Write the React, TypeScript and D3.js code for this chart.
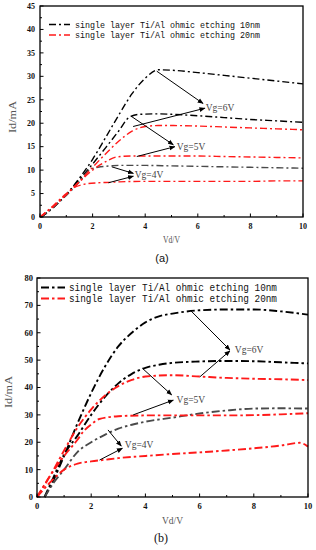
import React from "react";
import * as d3 from "d3";

type P = [number, number];

// ---------- Panel (a) data: Vd (V), Id (mA) ----------
const aBlack6: P[] = [[0.05,0],[0.5,2],[1,4.8],[1.5,8.3],[2,12.3],[2.5,17],[3,21.8],[3.5,26.3],[4,29.6],[4.5,31.4],[5,31.3],[6,30.8],[7,30.2],[8,29.6],[9,29],[10,28.4]];
const aBlack5: P[] = [[0.05,0],[0.5,2],[1,4.8],[1.5,8],[2,11.3],[2.5,14.8],[3,18.4],[3.4,21.3],[3.8,21.9],[4.5,22],[5,21.9],[6,21.6],[7,21.2],[8,20.8],[9,20.5],[10,20.2]];
const aGray4: P[] = [[0.05,0],[0.5,2],[1,4.6],[1.5,7.5],[1.85,9.9],[2.2,10.6],[2.7,10.9],[3,11],[4,11],[5,10.9],[6,10.8],[7,10.7],[8,10.6],[9,10.5],[10,10.4]];
const aRed6: P[] = [[0,0],[0.5,2.2],[1,4.8],[1.5,7.6],[2,10.6],[2.5,13.5],[3,16.2],[3.5,18.3],[4,19.3],[4.5,19.5],[5,19.5],[6,19.4],[7,19.2],[8,19],[9,18.8],[10,18.6]];
const aRed5: P[] = [[0,0],[0.5,2.2],[1,4.8],[1.5,7.5],[2,10],[2.5,11.8],[2.9,12.8],[3.5,13],[4,13],[5,13],[6,13],[7,12.9],[8,12.8],[9,12.7],[10,12.6]];
const aRed4: P[] = [[0,0],[0.5,2.4],[1,5],[1.35,6.4],[1.7,7],[2.2,7.3],[2.7,7.4],[3,7.5],[4,7.6],[5,7.6],[6,7.6],[7,7.6],[8,7.6],[9,7.7],[10,7.7]];

// ---------- Panel (b) data ----------
const bBlack6: P[] = [[0.28,0],[0.6,6],[1,15],[1.5,27],[2,38],[2.5,47.5],[3,55],[3.5,60],[4,63.8],[4.5,66],[5,67],[6,68.2],[7,68.5],[8,68.5],[9,67.8],[10,66.6]];
const bBlack5: P[] = [[0.28,0],[0.6,7],[1,15.5],[1.5,22.5],[2,30],[2.5,36.5],[3,41.5],[3.5,45],[4,47.2],[4.5,48.3],[5,49],[6,49.5],[7,49.7],[8,49.6],[9,49.2],[10,48.8]];
const bGray4: P[] = [[0.28,0],[0.6,5],[1,10],[1.5,16.5],[2,20],[2.5,22.7],[3,25],[3.5,26.4],[4,27.5],[5,29],[6,30.5],[7,31.6],[8,32.3],[9,32.4],[10,32.3]];
const bRed6: P[] = [[0,0],[0.5,8],[1,17],[1.5,25.5],[2,32],[2.5,37],[3,40.5],[3.5,42.8],[4,44],[5,44.5],[6,44],[7,43.5],[8,43.2],[9,43],[10,42.7]];
const bRed5: P[] = [[0,0],[0.5,8],[1,15],[1.5,21],[1.7,23.8],[2,26.5],[2.3,28.5],[3,29.5],[4,29.8],[5,29.8],[6,29.8],[7,29.8],[8,29.9],[9,30.2],[10,30.6]];
const bRed4: P[] = [[0,0],[0.5,5.5],[1,10],[1.5,12.2],[2,13],[2.5,13.6],[3,14.2],[4,15],[5,15.7],[6,16.3],[7,17],[8,17.8],[9,18.8],[9.7,19.8],[10,18.4]];

const legendLabels = ["single layer Ti/Al ohmic etching 10nm", "single layer Ti/Al ohmic etching 20nm"];
const xTicks = [0, 2, 4, 6, 8, 10];
const aYTicks = [0, 5, 10, 15, 20, 25, 30, 35, 40, 45];
const bYTicks = [0, 10, 20, 30, 40, 50, 60, 70, 80];

// annotations: [fromV, fromI, toV, toI]
const aArrows: [number, number, number, number][] = [
  [4.44, 31.1, 6.2, 24.2], [3.54, 19.3, 6.27, 23.2],
  [3.49, 21.4, 5.07, 15.4], [3.68, 12.9, 5.13, 15.0],
  [2.73, 10.7, 3.55, 9.3], [2.6, 7.3, 3.55, 8.7],
];
const aLabels: [string, number, number][] = [["Vg=6V", 6.3, 23.3], ["Vg=5V", 5.2, 15.0], ["Vg=4V", 3.6, 9.0]];
const bArrows: [number, number, number, number][] = [
  [5.65, 68.3, 7.12, 53.7], [6.01, 43.9, 7.12, 53.4],
  [3.89, 47.0, 4.97, 37.3], [3.55, 30.0, 5.03, 35.4],
  [2.62, 24.5, 3.11, 18.6], [2.31, 13.5, 3.15, 17.8],
];
const bLabels: [string, number, number][] = [["Vg=6V", 7.3, 54], ["Vg=5V", 5.15, 35.6], ["Vg=4V", 3.24, 19]];

const RED = "#ff1a1a";
const GRAY = "#4a4a4a";

interface PanelProps {
  x0: number; x1: number; y0: number; y1: number; yMax: number;
  yTicks: number[]; yMinorStep: number;
  series: { data: P[]; color: string }[];
  arrows: [number, number, number, number][];
  labels: [string, number, number][];
  lw: number; dash: string;
  legX: number; legY: number[]; legLen: number; legTextX: number; legFont: number; legTextLen: number;
  tickFont: number; xTickY: number; yTickX: number;
  xTitleY: number; xTitleLen: number; yTitleX: number; yTitleY: number; titleFont: number;
  labelFont: number; id: string;
}

function Panel(p: PanelProps) {
  const x = d3.scaleLinear().domain([0, 10]).range([p.x0, p.x1]);
  const y = d3.scaleLinear().domain([0, p.yMax]).range([p.y0, p.y1]);
  const line = d3.line<P>().x(d => x(d[0])).y(d => y(d[1])).curve(d3.curveMonotoneX);
  const xMinor = d3.range(0, 10.001, 1);
  const yMinor = d3.range(0, p.yMax + 0.001, p.yMinorStep);
  return (
    <g>
      <defs>
        <marker id={"ah" + p.id} viewBox="0 0 10 10" refX="9" refY="5" markerWidth="6" markerHeight="6" orient="auto" markerUnits="userSpaceOnUse">
          <path d="M0,1 L10,5 L0,9 z" fill="#000" />
        </marker>
      </defs>
      {p.series.map((s, i) => (
        <path key={i} d={line(s.data) || ""} fill="none" stroke={s.color} strokeWidth={p.lw} strokeDasharray={p.dash} />
      ))}
      {/* frame */}
      <rect x={p.x0} y={p.y1} width={p.x1 - p.x0} height={p.y0 - p.y1} fill="none" stroke="#000" strokeWidth={1.3} />
      {/* ticks */}
      {xMinor.map(v => (
        <line key={"xm" + v} x1={x(v)} x2={x(v)} y1={p.y0} y2={p.y0 - (v % 2 === 0 ? 3.5 : 2)} stroke="#000" strokeWidth={1} />
      ))}
      {yMinor.map(v => (
        <line key={"ym" + v} x1={p.x0} x2={p.x0 + (Math.abs(v / (p.yMinorStep * 2) - Math.round(v / (p.yMinorStep * 2))) < 1e-6 ? 3.5 : 2)} y1={y(v)} y2={y(v)} stroke="#000" strokeWidth={1} />
      ))}
      {xTicks.map(v => (
        <text key={"xt" + v} x={x(v)} y={p.xTickY} textAnchor="middle" fontFamily="Liberation Serif" fontWeight="bold" fontSize={p.tickFont} fill="#111">{v}</text>
      ))}
      {p.yTicks.map(v => (
        <text key={"yt" + v} x={p.yTickX} y={y(v)} dy="0.35em" textAnchor="end" fontFamily="Liberation Serif" fontWeight="bold" fontSize={p.tickFont} fill="#111">{v}</text>
      ))}
      {/* axis titles */}
      <text x={(p.x0 + p.x1) / 2} y={p.xTitleY} textAnchor="middle" fontFamily="Liberation Serif" fontSize={p.titleFont} fill="#555" textLength={p.xTitleLen} lengthAdjust="spacingAndGlyphs">Vd/V</text>
      <text transform={`translate(${p.yTitleX},${p.yTitleY}) rotate(-90)`} textAnchor="middle" dy="0.35em" fontFamily="Liberation Serif" fontSize={p.titleFont} fill="#555" textLength={32} lengthAdjust="spacingAndGlyphs">Id/mA</text>
      {/* legend */}
      {legendLabels.map((t, i) => (
        <g key={"lg" + i}>
          <line x1={p.legX} x2={p.legX + p.legLen} y1={p.legY[i]} y2={p.legY[i]} stroke={i === 0 ? "#000" : RED} strokeWidth={p.lw + 0.3} strokeDasharray={p.dash} />
          <text x={p.legTextX} y={p.legY[i]} dy="0.35em" fontFamily="Liberation Mono" fontSize={p.legFont} fill="#111" textLength={p.legTextLen} lengthAdjust="spacingAndGlyphs">{t}</text>
        </g>
      ))}
      {/* annotations */}
      {p.arrows.map((a, i) => (
        <line key={"ar" + i} x1={x(a[0])} y1={y(a[1])} x2={x(a[2])} y2={y(a[3])} stroke="#000" strokeWidth={1} markerEnd={`url(#ah${p.id})`} />
      ))}
      {p.labels.map((l, i) => (
        <text key={"lb" + i} x={x(l[1])} y={y(l[2])} dy="0.35em" fontFamily="Liberation Serif" fontSize={p.labelFont} fill="#444">{l[0]}</text>
      ))}
    </g>
  );
}

export default function App() {
  return (
    <svg width={316} height={550} style={{ position: "absolute", left: 0, top: 0, background: "#fff" }}>
      <Panel id="a" x0={40} x1={303} y0={217} y1={6} yMax={45} yTicks={aYTicks} yMinorStep={2.5}
        series={[
          { data: aBlack6, color: "#000" }, { data: aBlack5, color: "#000" }, { data: aGray4, color: GRAY },
          { data: aRed6, color: RED }, { data: aRed5, color: RED }, { data: aRed4, color: RED },
        ]}
        arrows={aArrows} labels={aLabels} lw={1.4} dash="7,3,2,3"
        legX={49} legY={[24.5, 35]} legLen={21} legTextX={75} legFont={9.5} legTextLen={185}
        tickFont={8} xTickY={229} yTickX={35}
        xTitleY={243} xTitleLen={17} yTitleX={12} yTitleY={117} titleFont={10.5} labelFont={9.5} />
      <text x={162} y={262} textAnchor="middle" fontFamily="Liberation Sans" fontSize={11} fill="#111">(a)</text>
      <Panel id="b" x0={37} x1={308} y0={497} y1={278} yMax={80} yTicks={bYTicks} yMinorStep={5}
        series={[
          { data: bBlack6, color: "#000" }, { data: bBlack5, color: "#000" }, { data: bGray4, color: GRAY },
          { data: bRed6, color: RED }, { data: bRed5, color: RED }, { data: bRed4, color: RED },
        ]}
        arrows={bArrows} labels={bLabels} lw={1.9} dash="8,3,2.5,3"
        legX={41} legY={[287.5, 298.5]} legLen={24} legTextX={69} legFont={10} legTextLen={208}
        tickFont={8.5} xTickY={509} yTickX={33}
        xTitleY={524} xTitleLen={21} yTitleX={8} yTitleY={392} titleFont={10.5} labelFont={9.5} />
      <text x={161} y={542} textAnchor="middle" fontFamily="Liberation Serif" fontSize={12} fill="#111">(b)</text>
    </svg>
  );
}
